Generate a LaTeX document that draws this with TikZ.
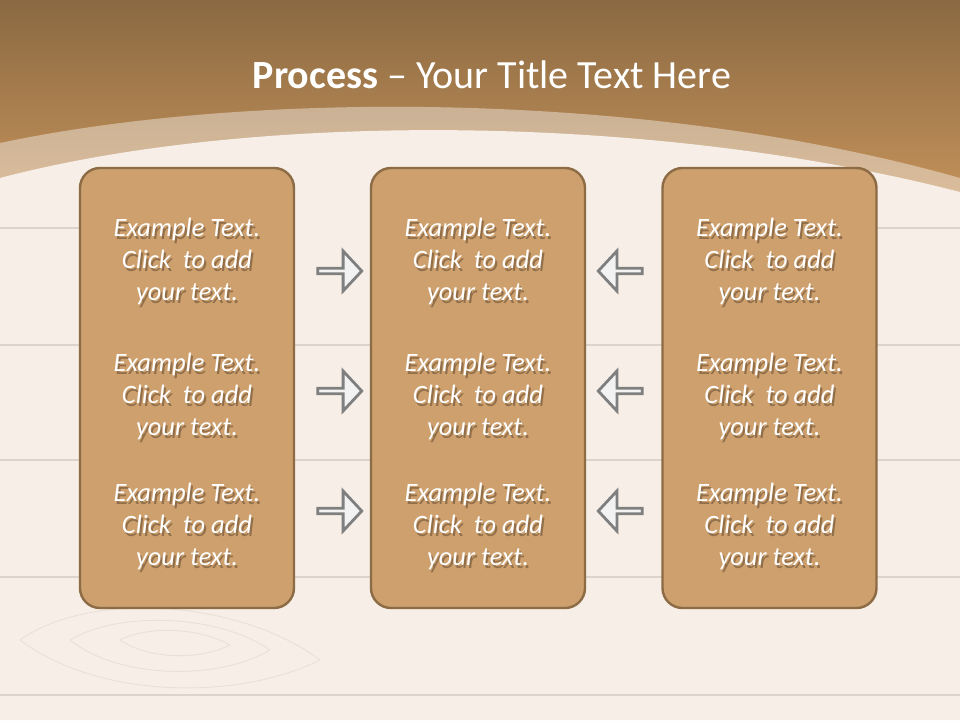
\documentclass[tikz,border=0pt]{standalone}
\usepackage{fontspec}
\setmainfont{Carlito}
\usetikzlibrary{shapes.arrows}
\definecolor{bandtop}{HTML}{8A6942}
\definecolor{bandbot}{HTML}{C4925A}
\definecolor{wood}{HTML}{F6EEE7}
\definecolor{plank}{HTML}{DDD3CB}
\definecolor{grain}{HTML}{ECE0D6}
\definecolor{boxfill}{HTML}{CDA06E}
\definecolor{boxline}{HTML}{8C6B45}
\definecolor{arrline}{HTML}{7F7F7F}
\definecolor{arrfill}{HTML}{F2F2F2}
\definecolor{shadowc}{HTML}{4A3520}
\tikzset{
  box/.style={draw=boxline, line width=2.4pt, fill=boxfill, rounded corners=20pt,
    minimum width=214pt, minimum height=440pt, inner sep=0pt},
  btxt/.style={text=white, align=center, inner sep=0pt,
    font=\fontsize{26.5pt}{32pt}\selectfont\itshape},
  bshadow/.style={btxt, text=shadowc, text opacity=0.45},
  arr/.style={single arrow, draw=arrline, fill=arrfill, line width=2.8pt,
    minimum height=44pt, minimum width=40pt, single arrow head extend=9pt,
    single arrow tip angle=94, inner sep=0pt},
  rarr/.style={arr, shape border rotate=0},
  larr/.style={arr, shape border rotate=180},
  plankline/.style={draw=plank, line width=1.6pt},
  grainline/.style={draw=grain, line width=0.9pt},
}
\begin{document}
\begin{tikzpicture}[x=1pt,y=-1pt]
\useasboundingbox (0,0) rectangle (960,720);
% background
\shade[top color=bandtop, bottom color=bandbot] (0,0) rectangle (960,200);
\fill[white, opacity=0.4] (0,143) .. controls (250,90) and (650,90) .. (960,178) -- (960,720) -- (0,720) -- cycle;
\fill[wood] (0,178) .. controls (250,112) and (650,112) .. (960,192) -- (960,720) -- (0,720) -- cycle;
% wood grain
\draw[grainline] (20,640) .. controls (90,590) and (240,600) .. (320,660) .. controls (240,700) and (100,700) .. (20,640);
\draw[grainline] (70,640) .. controls (120,610) and (220,615) .. (270,650) .. controls (220,680) and (120,680) .. (70,640);
\draw[grainline] (120,640) .. controls (150,625) and (200,628) .. (230,645) .. controls (200,660) and (150,660) .. (120,640);
% planks
\draw[plankline] (0,228) -- (80,228);
\draw[plankline] (876,228) -- (960,228);
\draw[plankline] (0,345) -- (960,345);
\draw[plankline] (0,460) -- (960,460);
\draw[plankline] (0,577) -- (960,577);
\draw[plankline] (0,695) -- (960,695);
% title
\node[text=white, font=\fontsize{40pt}{46pt}\selectfont] (title) at (492,75) {\textbf{Process} -- Your Title Text Here};
% boxes
\node[box] (b1) at (187,388) {};
\node[box] (b2) at (478,388) {};
\node[box] (b3) at (769.5,388) {};
% texts
\foreach \x/\c in {187/1,478/2,769.5/3}{
  \foreach \y/\r in {261/1,396/2,526/3}{
    \node[bshadow] (s\c\r) at (\x+2,\y+3) {Example Text.\\Click\ \ to add\\your text.};
    \node[btxt] (t\c\r) at (\x,\y) {Example Text.\\Click\ \ to add\\your text.};
  }
}
% arrows
\node[rarr] (ar1) at (338.5,271) {};
\node[rarr] (ar2) at (338.5,391) {};
\node[rarr] (ar3) at (338.5,511) {};
\node[larr] (al1) at (621.5,271) {};
\node[larr] (al2) at (621.5,391) {};
\node[larr] (al3) at (621.5,511) {};
\end{tikzpicture}
\end{document}
